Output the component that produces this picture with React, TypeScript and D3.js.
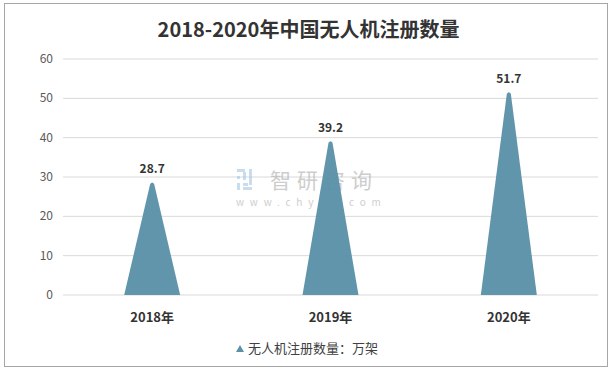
import React from 'react';
import * as d3 from 'd3';

const years = ['2018年', '2019年', '2020年'];
const values = [28.7, 39.2, 51.7];
const yTicks = [0, 10, 20, 30, 40, 50, 60];

const width = 613;
const height = 374;
const margin = { left: 63, right: 15, top: 59, bottom: 79 };
const fill = '#5b91a8';
const font = '"Microsoft YaHei", "Noto Sans CJK SC", sans-serif';

const x = d3.scaleBand().domain(years).range([margin.left, width - margin.right]);
const y = d3.scaleLinear().domain([0, 60]).range([height - margin.bottom, margin.top]);

const spike = (d: number, i: number) => {
  const cx = x(years[i])! + x.bandwidth() / 2;
  const half = x.bandwidth() * 0.157;
  const p = d3.path();
  p.moveTo(cx - half, y(0));
  p.lineTo(cx - 2, y(d) + 2);
  p.quadraticCurveTo(cx, y(d) - 1, cx + 2, y(d) + 2);
  p.lineTo(cx + half, y(0));
  p.closePath();
  return p.toString();
};

const App = () => {
  return (
    <svg width={width} height={height} style={{ display: 'block', position: 'absolute', left: 0, top: 0 }}>
      <rect x={0} y={0} width={width} height={height} fill="#fff" />
      <rect x={4.5} y={3.5} width={603} height={363} fill="none" stroke="#a6a6a6" />
      <text x={width / 2 + 2} y={37} textAnchor="middle" fontFamily={font} fontSize={20} fontWeight="bold" fill="#333">
        2018-2020年中国无人机注册数量
      </text>
      {yTicks.map(t => (
        <g key={t}>
          <line x1={margin.left} x2={width - margin.right} y1={y(t)} y2={y(t)} stroke="#d9d9d9" />
          <text x={53} y={y(t) + 4} textAnchor="end" fontFamily={font} fontSize={12} fill="#595959">{t}</text>
        </g>
      ))}
      {/* watermark */}
      <g opacity={0.55}>
        <path d="M237,169h8v3h-8zM237,176h3v3h-3zM243,172h3v8h-3zM237,183h3v7h-3zM243,183h5v3h-5zM243,187h9v3h-9zM249,169h3v16h-3z" fill="#9dc3e6" />
        <text x={270} y={188} fontFamily={font} fontSize={21} fill="#a6a6a6" letterSpacing={6}>智研咨询</text>
        <text x={236} y={206} fontFamily={font} fontSize={10} fill="#a6a6a6" letterSpacing={5.8}>www.chyxx.com</text>
      </g>
      {values.map((v, i) => (
        <g key={years[i]}>
          <path d={spike(v, i)} fill={fill} opacity={0.96} />
          <text x={x(years[i])! + x.bandwidth() / 2} y={y(v) - 9} textAnchor="middle" fontFamily={font} fontSize={12} fontWeight="bold" fill="#333">
            {v}
          </text>
          <text x={x(years[i])! + x.bandwidth() / 2} y={322} textAnchor="middle" fontFamily={font} fontSize={13} fontWeight="bold" fill="#333">
            {years[i]}
          </text>
        </g>
      ))}
      <path d="M236,352 L240,345 L244,352 Z" fill={fill} />
      <text x={248} y={353} fontFamily={font} fontSize={13} fill="#404040">无人机注册数量：万架</text>
    </svg>
  );
};

export default App;
